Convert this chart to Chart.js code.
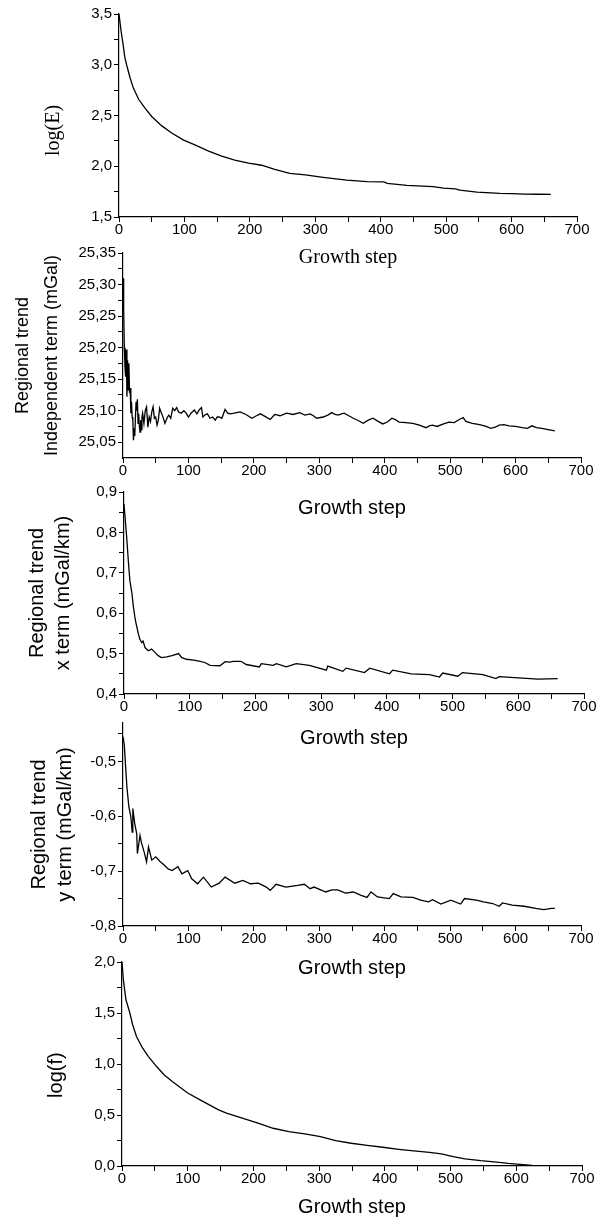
<!DOCTYPE html>
<html>
<head>
<meta charset="utf-8">
<script src="https://cdn.jsdelivr.net/npm/chart.js@4.4.1/dist/chart.umd.min.js"></script>
<style>
  body { margin: 0; background: #fff; }
  #page { position: relative; width: 610px; height: 1217px; overflow: hidden; }
  #page canvas { position: absolute; left: 0; }
</style>
</head>
<body>
<div id="page">
  <canvas id="chartE"></canvas>
  <canvas id="chartIndep"></canvas>
  <canvas id="chartXTerm"></canvas>
  <canvas id="chartYTerm"></canvas>
  <canvas id="chartF"></canvas>
</div>
<script>
// ---- data ----
const xTicks = [0, 100, 200, 300, 400, 500, 600, 700];
const xMinorTicks = [50, 150, 250, 350, 450, 550, 650];

// log(E)
const stepsE = [0, 3, 6, 9, 12, 17, 22, 30, 40, 50,
    65, 80, 98, 116, 137, 157, 177, 198, 218, 238,
    261, 285, 312, 348, 379, 405, 410, 440, 480, 496,
    514, 521, 547, 582, 600, 620, 640, 660];
const logE = [3.50, 3.34, 3.21, 3.07, 2.99, 2.87, 2.77, 2.66, 2.57, 2.49,
    2.40, 2.33, 2.26, 2.21, 2.15, 2.10, 2.06, 2.03, 2.01, 1.97,
    1.93, 1.915, 1.891, 1.864, 1.848, 1.846, 1.832, 1.812, 1.80, 1.785,
    1.777, 1.765, 1.746, 1.733, 1.730, 1.726, 1.724, 1.722];
const ticksE = [1.5, 2.0, 2.5, 3.0, 3.5];
const minorE = [1.75, 2.25, 2.75, 3.25];

// regional trend, independent term (mGal)
const stepsIndep = [0, 1, 2, 3, 4, 5, 6, 7, 8, 9,
    10, 11, 12, 13, 14, 15, 16, 17, 18, 19,
    20, 21, 22, 23, 24, 25, 26, 27, 28, 29,
    30, 32, 34, 36, 38, 40, 42, 44, 46, 48,
    50, 52, 54, 56, 58, 60, 62, 64, 66, 68,
    70, 73, 76, 79, 82, 85, 89, 93, 96, 100,
    104, 109, 113, 117, 120, 122, 126, 129, 133, 137,
    141, 144, 147, 151, 156, 160, 164, 170, 179, 188,
    197, 204, 210, 217, 225, 232, 240, 250, 260, 270,
    278, 286, 291, 296, 306, 313, 319, 324, 329, 334,
    338, 345, 352, 360, 367, 375, 382, 390, 397, 404,
    411, 416, 422, 432, 443, 453, 463, 468, 473, 480,
    490, 498, 506, 514, 520, 524, 534, 545, 555, 562,
    569, 575, 582, 590, 600, 610, 618, 625, 632, 640,
    650, 660];
const indepTerm = [25.31, 25.26, 25.20, 25.17, 25.154, 25.197, 25.122, 25.18, 25.133, 25.175,
    25.128, 25.136, 25.096, 25.114, 25.09, 25.085, 25.053, 25.072, 25.06, 25.09,
    25.114, 25.10, 25.118, 25.08, 25.095, 25.075, 25.066, 25.085, 25.07, 25.09,
    25.096, 25.08, 25.10, 25.106, 25.074, 25.09, 25.083, 25.098, 25.106, 25.088,
    25.09, 25.077, 25.085, 25.104, 25.098, 25.093, 25.087, 25.08, 25.085, 25.09,
    25.093, 25.088, 25.104, 25.10, 25.105, 25.098, 25.096, 25.10, 25.097, 25.09,
    25.096, 25.101, 25.095, 25.102, 25.105, 25.09, 25.094, 25.095, 25.088, 25.09,
    25.085, 25.09, 25.09, 25.088, 25.102, 25.096, 25.095, 25.096, 25.098, 25.094,
    25.088, 25.092, 25.095, 25.091, 25.086, 25.094, 25.092, 25.096, 25.094, 25.097,
    25.093, 25.095, 25.092, 25.088, 25.09, 25.093, 25.097, 25.094, 25.093, 25.095,
    25.096, 25.092, 25.088, 25.084, 25.08, 25.085, 25.088, 25.083, 25.079, 25.082,
    25.088, 25.086, 25.082, 25.081, 25.08, 25.077, 25.073, 25.076, 25.077, 25.075,
    25.079, 25.082, 25.081, 25.086, 25.089, 25.083, 25.08, 25.078, 25.075, 25.072,
    25.074, 25.077, 25.078, 25.076, 25.075, 25.073, 25.072, 25.076, 25.073, 25.072,
    25.07, 25.068];
const ticksIndep = [25.05, 25.10, 25.15, 25.20, 25.25, 25.30, 25.35];
const minorIndep = [25.075, 25.125, 25.175, 25.225, 25.275, 25.325];

// regional trend, x term (mGal/km)
const stepsXTerm = [0, 2, 4, 7, 9, 12, 14, 17, 19, 22,
    24, 27, 29, 32, 37, 42, 47, 52, 57, 65,
    73, 83, 88, 95, 106, 116, 123, 131, 146, 154,
    161, 166, 178, 186, 206, 209, 227, 232, 247, 262,
    282, 308, 310, 333, 338, 366, 374, 404, 409, 437,
    465, 480, 485, 508, 515, 546, 566, 571, 600, 630,
    660];
const xTerm = [0.87, 0.83, 0.79, 0.72, 0.68, 0.65, 0.62, 0.585, 0.57, 0.548,
    0.536, 0.527, 0.531, 0.515, 0.507, 0.511, 0.503, 0.495, 0.49, 0.492,
    0.495, 0.50, 0.49, 0.486, 0.484, 0.481, 0.478, 0.471, 0.47, 0.48,
    0.479, 0.481, 0.481, 0.473, 0.467, 0.475, 0.471, 0.475, 0.467, 0.475,
    0.471, 0.459, 0.469, 0.456, 0.464, 0.453, 0.464, 0.45, 0.459, 0.45,
    0.448, 0.442, 0.452, 0.444, 0.453, 0.448, 0.438, 0.443, 0.44, 0.437,
    0.438];
const ticksXTerm = [0.4, 0.5, 0.6, 0.7, 0.8, 0.9];
const minorXTerm = [0.45, 0.55, 0.65, 0.75, 0.85];

// regional trend, y term (mGal/km)
const stepsYTerm = [0, 2, 4, 6, 9, 12, 14, 15, 18, 21,
    22, 26, 28, 33, 36, 39, 44, 50, 57, 63,
    69, 75, 84, 90, 99, 105, 114, 123, 135, 147,
    156, 171, 183, 195, 207, 219, 225, 234, 249, 267,
    277, 286, 292, 310, 319, 328, 340, 352, 364, 373,
    379, 389, 407, 413, 425, 443, 455, 467, 473, 486,
    501, 516, 522, 540, 551, 565, 575, 580, 595, 613,
    631, 643, 655, 660];
const yTerm = [-0.455, -0.47, -0.51, -0.547, -0.583, -0.601, -0.629, -0.586, -0.614, -0.632,
    -0.668, -0.635, -0.647, -0.668, -0.683, -0.656, -0.68, -0.674, -0.683, -0.689,
    -0.696, -0.699, -0.692, -0.705, -0.699, -0.714, -0.723, -0.711, -0.729, -0.722,
    -0.711, -0.722, -0.717, -0.723, -0.722, -0.729, -0.735, -0.724, -0.729, -0.726,
    -0.724, -0.732, -0.729, -0.738, -0.734, -0.734, -0.74, -0.738, -0.744, -0.748,
    -0.738, -0.747, -0.75, -0.741, -0.747, -0.748, -0.753, -0.756, -0.752, -0.76,
    -0.753, -0.76, -0.75, -0.753, -0.756, -0.759, -0.764, -0.758, -0.762, -0.764,
    -0.768, -0.77, -0.768, -0.768];
const ticksYTerm = [-0.8, -0.7, -0.6, -0.5];
const minorYTerm = [-0.75, -0.65, -0.55, -0.45];

// log(f)
const stepsF = [0, 2, 6, 12, 16, 22, 31, 40, 52, 64,
    76, 100, 123, 147, 159, 183, 207, 230, 254, 278,
    302, 325, 349, 373, 397, 421, 444, 468, 486, 504,
    522, 546, 570, 588, 606, 624, 642, 660];
const logF = [2.0, 1.83, 1.63, 1.50, 1.39, 1.27, 1.16, 1.075, 0.98, 0.895,
    0.83, 0.715, 0.633, 0.55, 0.518, 0.469, 0.42, 0.37, 0.338, 0.315,
    0.289, 0.249, 0.223, 0.203, 0.184, 0.164, 0.148, 0.134, 0.118, 0.092,
    0.069, 0.052, 0.039, 0.026, 0.016, 0.007, 0.003, 0.0];
const ticksF = [0.0, 0.5, 1.0, 1.5, 2.0];
const minorF = [0.25, 0.75, 1.25, 1.75];

// ---- drawing ----
Chart.defaults.font.family = "'Liberation Sans', Arial, sans-serif";
Chart.defaults.font.size = 15;
Chart.defaults.color = '#000';

const SANS = "'Liberation Sans', Arial, sans-serif";
const SERIF = "'Liberation Serif', 'Times New Roman', serif";

function toPoints(xs, ys) {
    return xs.map((x, i) => ({ x: x, y: ys[i] }));
}
function inList(list, v) {
    return list.some(t => Math.abs(t - v) < 1e-9);
}
function tickObjs(major, minor) {
    return major.concat(minor).sort((a, b) => a - b).map(v => ({ value: v }));
}

function makePanel(p) {
    const canvas = document.getElementById(p.id);
    canvas.style.top = p.top + 'px';
    canvas.width = 610;
    canvas.height = p.height;
    const axisLine = { color: '#000', width: 1.2 };
    const tickMarks = { drawOnChartArea: false, tickLength: 5, tickColor: '#000', tickWidth: 1 };
    return new Chart(canvas, {
        type: 'line',
        data: {
            datasets: [{
                data: toPoints(p.xs, p.ys),
                borderColor: '#000',
                borderWidth: 1.3,
                pointRadius: 0,
                tension: 0,
                fill: false
            }]
        },
        options: {
            responsive: false,
            animation: false,
            events: [],
            layout: { padding: { top: p.padTop, left: 0, right: 610 - p.right, bottom: 0 } },
            plugins: { legend: { display: false }, tooltip: { enabled: false } },
            scales: {
                x: {
                    type: 'linear',
                    min: 0,
                    max: 700,
                    afterBuildTicks: s => { s.ticks = tickObjs(xTicks, xMinorTicks); },
                    afterFit: s => { s.height = p.xHeight; },
                    ticks: {
                        autoSkip: false,
                        maxRotation: 0,
                        padding: 0,
                        font: { size: 15, lineHeight: 1 },
                        callback: v => inList(xTicks, v) ? String(v) : ''
                    },
                    grid: tickMarks,
                    border: axisLine,
                    title: {
                        display: true,
                        text: 'Growth step',
                        font: { family: p.xTitleFamily, size: 20, lineHeight: 1 },
                        padding: 0
                    }
                },
                y: {
                    type: 'linear',
                    min: p.yMin,
                    max: p.yMax,
                    afterBuildTicks: s => { s.ticks = tickObjs(p.yMajor, p.yMinor); },
                    afterFit: s => { s.width = p.left; },
                    ticks: {
                        autoSkip: false,
                        padding: 2,
                        font: { size: 15, lineHeight: 1 },
                        callback: v => inList(p.yMajor, v) ? v.toFixed(p.dec).replace('.', ',') : ''
                    },
                    grid: tickMarks,
                    border: axisLine,
                    title: {
                        display: true,
                        text: p.yTitle,
                        font: p.yTitleFont,
                        padding: { top: p.yTitlePad, bottom: 0 }
                    }
                }
            }
        }
    });
}

// trailing spaces push the single-line titles a little below the axis centre, as in the original
makePanel({
    id: 'chartE', top: 0, height: 268, padTop: 14, left: 119, right: 577, xHeight: 51,
    xs: stepsE, ys: logE, yMin: 1.5, yMax: 3.5, yMajor: ticksE, yMinor: minorE, dec: 1,
    yTitle: 'log(E)      ', yTitleFont: { family: SERIF, size: 20, lineHeight: 1 }, yTitlePad: 44,
    xTitleFamily: SERIF
});
makePanel({
    id: 'chartIndep', top: 240, height: 278, padTop: 13, left: 123, right: 581, xHeight: 60,
    xs: stepsIndep, ys: indepTerm, yMin: 25.025, yMax: 25.35, yMajor: ticksIndep, yMinor: minorIndep, dec: 2,
    yTitle: ['Regional trend', 'Independent term (mGal)'],
    yTitleFont: { family: SANS, size: 18, lineHeight: 1.6 }, yTitlePad: 9,
    xTitleFamily: SANS
});
makePanel({
    id: 'chartXTerm', top: 479, height: 269, padTop: 13, left: 124, right: 584, xHeight: 54,
    xs: stepsXTerm, ys: xTerm, yMin: 0.4, yMax: 0.9, yMajor: ticksXTerm, yMinor: minorXTerm, dec: 1,
    yTitle: ['Regional trend', 'x term (mGal/km)'],
    yTitleFont: { family: SANS, size: 20, lineHeight: 1.3 }, yTitlePad: 24,
    xTitleFamily: SANS
});
makePanel({
    id: 'chartYTerm', top: 710, height: 268, padTop: 13, left: 123, right: 581, xHeight: 52,
    xs: stepsYTerm, ys: yTerm, yMin: -0.8, yMax: -0.43, yMajor: ticksYTerm, yMinor: minorYTerm, dec: 1,
    yTitle: ['Regional trend', 'y term (mGal/km)'],
    yTitleFont: { family: SANS, size: 20, lineHeight: 1.3 }, yTitlePad: 26,
    xTitleFamily: SANS
});
makePanel({
    id: 'chartF', top: 949, height: 268, padTop: 13, left: 122, right: 582, xHeight: 51,
    xs: stepsF, ys: logF, yMin: 0, yMax: 2.0, yMajor: ticksF, yMinor: minorF, dec: 1,
    yTitle: 'log(f)    ', yTitleFont: { family: SANS, size: 20, lineHeight: 1 }, yTitlePad: 46,
    xTitleFamily: SANS
});
</script>
</body>
</html>
